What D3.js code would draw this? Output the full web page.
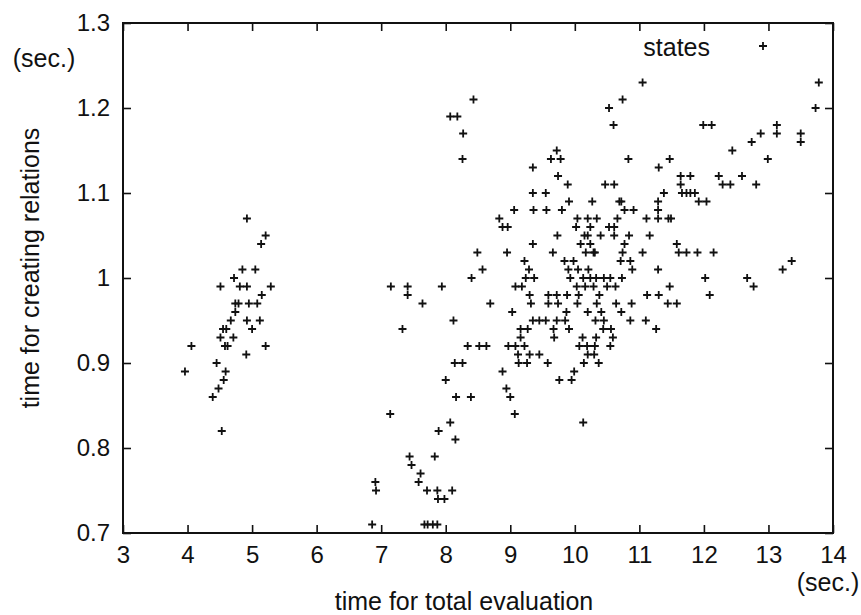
<!DOCTYPE html>
<html>
<head>
<meta charset="utf-8">
<script src="https://cdn.jsdelivr.net/npm/d3@7"></script>
<style>
  body { margin: 0; background: #fff; }
  text { font-family: "Liberation Sans", Arial, sans-serif; fill: #111; }
</style>
</head>
<body>
<div id="chart"></div>
<script>
/* =========================
   Data: [total evaluation (sec.), creating relations (sec.)]
========================= */
const seriesName = "states";

// small runs, left cluster
const leftCluster = [
  [4.92,1.07],[5.21,1.05],[5.14,1.04],[4.85,1.01],[5.05,1.01],[4.72,1.00],
  [4.51,0.99],[4.81,0.99],[4.92,0.99],[5.29,0.99],[5.15,0.98],[4.74,0.97],
  [4.79,0.97],[4.95,0.97],[5.08,0.97],[4.74,0.96],[4.67,0.95],[4.92,0.95],
  [5.12,0.95],[4.55,0.94],[4.60,0.94],[5.00,0.94],[4.51,0.93],[4.71,0.93],
  [4.06,0.92],[4.58,0.92],[4.62,0.92],[5.21,0.92],[4.91,0.91],[4.45,0.90],
  [3.96,0.89],[4.59,0.89],[4.56,0.88],[4.48,0.87],[4.39,0.86],[4.53,0.82]
];

// around 7-8 sec.
const lowCluster = [
  [7.15,0.99],[7.41,0.99],[7.41,0.98],[7.94,0.99],[7.64,0.97],[8.12,0.95],
  [7.33,0.94],[8.14,0.90],[8.00,0.88],[8.16,0.86],[7.14,0.84],[8.07,0.83],
  [7.89,0.82],[8.15,0.81],[7.44,0.79],[7.83,0.79],[7.47,0.78],[7.61,0.77],
  [6.91,0.76],[7.58,0.76],[6.92,0.75],[7.71,0.75],[7.87,0.75],[8.10,0.75],
  [7.88,0.74],[7.98,0.74],[6.86,0.71],[7.67,0.71],[7.72,0.71],[7.80,0.71],
  [7.87,0.71]
];

// upper part of main cloud
const upperCloud = [
  [11.05,1.23],[8.07,1.19],[8.18,1.19],[8.43,1.21],[8.27,1.17],[8.26,1.14],
  [10.53,1.20],[10.74,1.21],[10.60,1.18],[10.83,1.14],[9.72,1.15],[9.63,1.14],
  [9.78,1.14],[9.35,1.13],
  [9.74,1.12],[9.89,1.11],[10.47,1.11],[10.61,1.11],[9.35,1.10],[9.55,1.10],
  [9.91,1.09],[10.27,1.09],[10.69,1.09],[10.72,1.09],
  [9.06,1.08],[9.36,1.08],[9.56,1.08],[9.80,1.08],[10.77,1.08],[10.91,1.08],
  [8.83,1.07],[10.04,1.07],[10.20,1.07],[10.34,1.07],[10.66,1.07],
  [8.88,1.06],[8.96,1.06],[10.02,1.06],[10.24,1.06],[10.53,1.06],[10.61,1.06],
  [9.73,1.05],[10.15,1.05],[10.20,1.05],[10.40,1.05],[10.61,1.05],[10.84,1.05],
  [9.35,1.04],[10.09,1.04],[10.24,1.04],[10.77,1.04],
  [8.49,1.03],[8.95,1.03],[9.66,1.03],[10.17,1.03],[10.29,1.03],[10.31,1.03],
  [10.74,1.03],[11.05,1.03],
  [9.22,1.02],[9.84,1.02],[9.98,1.02],[10.71,1.02],[10.86,1.02],
  [8.57,1.01],[9.29,1.01],[9.90,1.01],[10.05,1.01],[10.21,1.01],[10.89,1.01],
  [8.40,1.00],[9.24,1.00],[9.37,1.00],[9.93,1.00],[10.13,1.00],[10.24,1.00],
  [10.33,1.00],[10.45,1.00],[10.55,1.00],[10.73,1.00],
  [9.08,0.99],[9.18,0.99],[10.03,0.99],[10.16,0.99],[10.29,0.99],[10.50,0.99],
  [10.63,0.99],
  [9.30,0.98],[9.59,0.98],[9.72,0.98],[9.88,0.98],[10.06,0.98],[10.38,0.98]
];

// lower part of main cloud
const lowerCloud = [
  [8.69,0.97],[9.32,0.97],[9.59,0.97],[9.74,0.97],[10.04,0.97],[10.34,0.97],
  [10.64,0.97],[10.88,0.97],
  [9.03,0.96],[9.87,0.96],[10.20,0.96],[10.41,0.96],[10.72,0.96],
  [9.35,0.95],[9.45,0.95],[9.55,0.95],[9.72,0.95],[9.85,0.95],[10.32,0.95],
  [10.45,0.95],[10.86,0.95],
  [9.16,0.94],[9.27,0.94],[9.67,0.94],[9.91,0.94],[10.44,0.94],[10.56,0.94],
  [9.16,0.93],[9.68,0.93],[10.12,0.93],[10.33,0.93],[10.59,0.93],
  [8.34,0.92],[8.52,0.92],[8.63,0.92],[8.97,0.92],[9.08,0.92],[9.22,0.92],
  [10.07,0.92],[10.19,0.92],[10.31,0.92],[10.55,0.92],
  [9.12,0.91],[9.30,0.91],[9.45,0.91],[10.20,0.91],[10.30,0.91],
  [8.26,0.90],[9.13,0.90],[9.26,0.90],[9.58,0.90],[10.14,0.90],[10.37,0.90],
  [8.88,0.89],[9.99,0.89],[9.76,0.88],[9.95,0.88],[8.94,0.87],
  [8.39,0.86],[9.00,0.86],[9.07,0.84],[10.13,0.83]
];

// right side, 11-14 sec.
const rightCloud = [
  [13.78,1.23],[13.73,1.20],[11.99,1.18],[12.12,1.18],[13.13,1.18],[13.13,1.17],
  [12.88,1.17],[13.50,1.17],[13.50,1.16],[12.74,1.16],[12.44,1.15],[12.99,1.14],
  [11.47,1.14],[11.30,1.13],
  [11.64,1.12],[11.79,1.12],[12.23,1.12],[12.59,1.12],
  [11.64,1.11],[12.29,1.11],[12.41,1.11],[12.81,1.11],
  [11.38,1.10],[11.66,1.10],[11.73,1.10],[11.79,1.10],[11.86,1.10],
  [11.29,1.09],[11.92,1.09],[12.04,1.09],[11.29,1.08],
  [11.11,1.07],[11.29,1.07],[11.45,1.07],[11.49,1.07],
  [11.16,1.05],[11.58,1.04],
  [11.61,1.03],[11.73,1.03],[11.90,1.03],[12.15,1.03],
  [13.36,1.02],[11.29,1.01],[13.22,1.01],[12.02,1.00],[12.67,1.00],
  [11.47,0.99],[12.77,0.99],[11.12,0.98],[11.30,0.98],[12.09,0.98],
  [11.44,0.97],[11.58,0.97],[11.10,0.95],[11.26,0.94]
];

const xTicks = [3, 4, 5, 6, 7, 8, 9, 10, 11, 12, 13, 14];
const yTicks = [0.7, 0.8, 0.9, 1.0, 1.1, 1.2, 1.3];
const xTitle = "time for total evaluation";
const yTitle = "time for creating relations";
const unitLabel = "(sec.)";

/* =========================
   Layout
========================= */
const W = 861, H = 615;
const margin = { top: 23, right: 28, bottom: 82, left: 123 };
const width = W - margin.left - margin.right;
const height = H - margin.top - margin.bottom;
const FONT = "'Liberation Sans', Arial, sans-serif";
const FS = 24;      // tick labels
const FS_T = 25;    // titles, key, units

const svg = d3.select("#chart")
  .append("svg")
  .attr("width", W)
  .attr("height", H);

const g = svg.append("g")
  .attr("transform", `translate(${margin.left},${margin.top})`);

const x = d3.scaleLinear().domain([3, 14]).range([0, width]);
const y = d3.scaleLinear().domain([0.7, 1.3]).range([height, 0]);

function styleAxis(sel) {
  sel.select(".domain").remove();
  sel.selectAll(".tick line").attr("stroke", "#111").attr("stroke-width", 1.6);
  sel.selectAll(".tick text")
    .attr("font-family", FONT)
    .attr("font-size", FS)
    .attr("fill", "#111");
}

// bottom + left with labels, top + right mirrored ticks
g.append("g")
  .attr("transform", `translate(0,${height})`)
  .call(d3.axisBottom(x).tickValues(xTicks).tickSizeInner(-8).tickSizeOuter(0)
    .tickPadding(13).tickFormat(d3.format("d")))
  .call(styleAxis);

g.append("g")
  .call(d3.axisLeft(y).tickValues(yTicks).tickSizeInner(-8).tickSizeOuter(0)
    .tickPadding(13).tickFormat(d => d === 1 ? "1" : d3.format(".1f")(d)))
  .call(styleAxis);

g.append("g")
  .call(d3.axisTop(x).tickValues(xTicks).tickSizeInner(-8).tickSizeOuter(0).tickFormat(""))
  .call(styleAxis);

g.append("g")
  .attr("transform", `translate(${width},0)`)
  .call(d3.axisRight(y).tickValues(yTicks).tickSizeInner(-8).tickSizeOuter(0).tickFormat(""))
  .call(styleAxis);

// frame
g.append("rect")
  .attr("width", width)
  .attr("height", height)
  .attr("fill", "none")
  .attr("stroke", "#111")
  .attr("stroke-width", 2);

/* =========================
   Points
========================= */
const allPoints = [].concat(leftCluster, lowCluster, upperCloud, lowerCloud, rightCloud);
const plus = "M-4,0H4M0,-4V4";

g.selectAll(".pt")
  .data(allPoints)
  .enter()
  .append("path")
  .attr("class", "pt")
  .attr("d", plus)
  .attr("transform", d => `translate(${x(d[0])},${y(d[1])})`)
  .attr("stroke", "#111")
  .attr("stroke-width", 1.8)
  .attr("fill", "none");

/* =========================
   Key
========================= */
g.append("text")
  .attr("x", 587)
  .attr("y", 24)
  .attr("dy", "0.35em")
  .attr("text-anchor", "end")
  .attr("font-size", FS_T)
  .text(seriesName);

g.append("path")
  .attr("d", plus)
  .attr("transform", "translate(640,23)")
  .attr("stroke", "#111")
  .attr("stroke-width", 1.8)
  .attr("fill", "none");

/* =========================
   Titles
========================= */
svg.append("text")
  .attr("x", margin.left + width / 2 - 14)
  .attr("y", 601)
  .attr("dy", "0.35em")
  .attr("text-anchor", "middle")
  .attr("font-size", FS_T)
  .text(xTitle);

svg.append("text")
  .attr("transform", `translate(30,${margin.top + height / 2 - 10}) rotate(-90)`)
  .attr("dy", "0.35em")
  .attr("text-anchor", "middle")
  .attr("font-size", FS_T)
  .text(yTitle);

// units
svg.append("text")
  .attr("x", 44)
  .attr("y", 58)
  .attr("dy", "0.35em")
  .attr("text-anchor", "middle")
  .attr("font-size", FS_T)
  .text(unitLabel);

svg.append("text")
  .attr("x", 828)
  .attr("y", 582)
  .attr("dy", "0.35em")
  .attr("text-anchor", "middle")
  .attr("font-size", FS_T)
  .text(unitLabel);
</script>
</body>
</html>
